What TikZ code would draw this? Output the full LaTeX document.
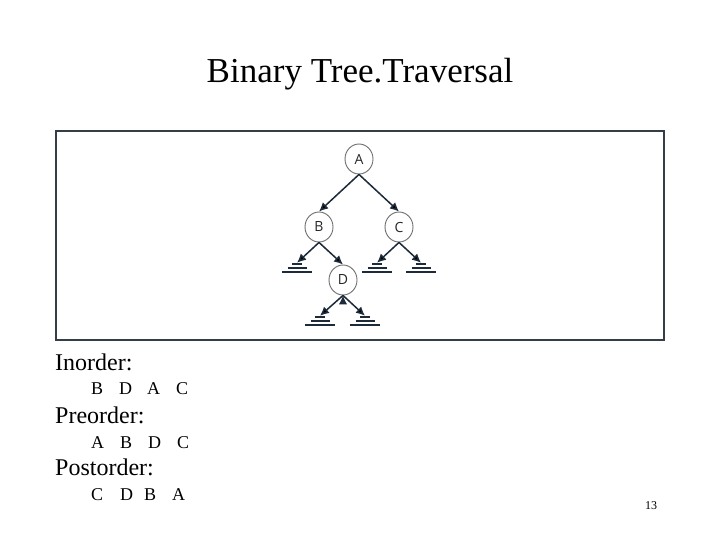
\documentclass[tikz,border=0pt]{standalone}
\usepackage{fontspec}
\setmainfont{Liberation Serif}
\newfontfamily\treefont{Open Sans}
\usetikzlibrary{arrows.meta,positioning,shapes.geometric}

\definecolor{framegray}{HTML}{353D46}
\definecolor{edgeblue}{HTML}{1C2A3A}
\definecolor{ringgray}{HTML}{6E6E6E}

\begin{document}
\begin{tikzpicture}[x=1pt,y=-1pt,>={Latex[length=9pt,width=8.5pt]},on grid]
\tikzstyle{vertex}=[shape=ellipse,draw=ringgray,line width=0.9pt,fill=white,minimum width=28pt,minimum height=30pt,inner sep=0pt,font=\treefont\fontsize{14}{14}\selectfont,text=black!85]
\tikzstyle{nil}=[minimum width=30pt,minimum height=10pt,inner sep=0pt,path picture={
  \draw[edgeblue,line width=1.7pt] ([xshift=-5pt,yshift=-1pt]path picture bounding box.north) -- ++(10pt,0pt);
  \draw[edgeblue,line width=1.7pt] ([xshift=-9.5pt]path picture bounding box.center) -- ++(19pt,0pt);
  \draw[edgeblue,line width=1.7pt] ([xshift=-15pt,yshift=1pt]path picture bounding box.south) -- ++(30pt,0pt);}]
\tikzstyle{tree edge}=[->,draw=edgeblue,line width=1.5pt]
\tikzstyle{heading}=[anchor=base west,inner sep=0pt,font=\fontsize{24}{28}\selectfont]
\tikzstyle{order}=[anchor=base west,inner sep=0pt,font=\fontsize{18}{21}\selectfont]

\path[use as bounding box,fill=white] (0,0) rectangle (720,540);

\node[anchor=base,font=\fontsize{35}{40}\selectfont] (title) at (360,83) {Binary Tree.Traversal};

% framed tree
\draw[framegray,line width=2.8pt] (56,131) rectangle (664,340);

\node[vertex]       (A) at (359,159)            {A};
\node[vertex]       (B) [below left=68pt and 40pt of A]  {B};
\node[vertex]       (C) [below right=68pt and 40pt of A] {C};
\node[vertex]       (D) [below right=53pt and 24pt of B] {D};
\node[nil]          (nB)  [below left=41pt and 22pt of B]  {};
\node[nil]          (nCl) [below left=41pt and 22pt of C]  {};
\node[nil]          (nCr) [below right=41pt and 22pt of C] {};
\node[nil]          (nDl) [below left=41pt and 23pt of D]  {};
\node[nil]          (nDr) [below right=41pt and 22pt of D] {};

\path[tree edge]
(A.south) edge (B.north)
(A.south) edge (C.north)
(B.south) edge (nB.north)
(B.south) edge (D.north)
(C.south) edge (nCl.north)
(C.south) edge (nCr.north)
(D.south) edge (nDl.north)
(D.south) edge (nDr.north)
;

% traversals
\node[heading] (inorder)   at (55,370) {Inorder:};
\node[order]   (inseq)     at (91,394) {B\hspace{16pt}D\hspace{15pt}A\hspace{16pt}C};
\node[heading] (preorder)  at (55,423) {Preorder:};
\node[order]   (preseq)    at (91,448) {A\hspace{16pt}B\hspace{16pt}D\hspace{16pt}C};
\node[heading] (postorder) at (55,475) {Postorder:};
\node[order]   (postseq)   at (91,500) {C\hspace{17pt}D\hspace{11pt}B\hspace{16pt}A};

\node[anchor=base,font=\fontsize{12}{14}\selectfont] (page) at (651,509) {13};
\end{tikzpicture}
\end{document}
